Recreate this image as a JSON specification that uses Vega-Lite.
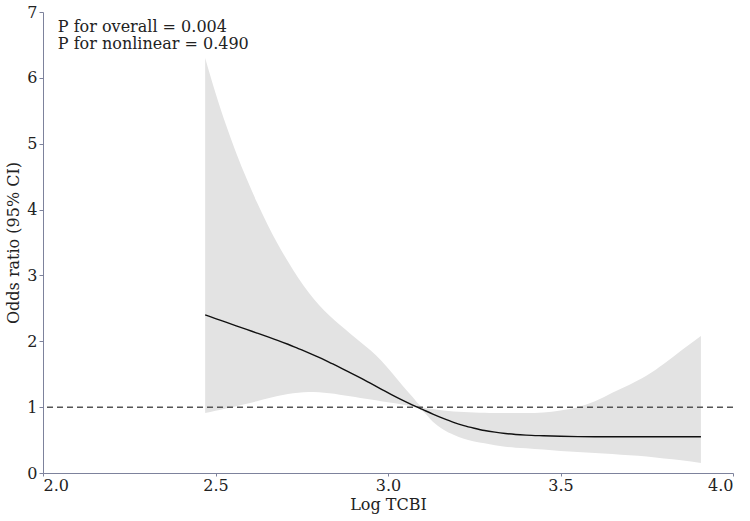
{
  "$schema": "https://vega.github.io/schema/vega-lite/v6.json",
  "width": 690,
  "height": 461,
  "autosize": "none",
  "padding": {"left": 43, "top": 12, "right": 17, "bottom": 48},
  "background": "white",
  "config": {
    "view": {"stroke": null},
    "font": "DejaVu Serif",
    "axis": {
      "grid": false,
      "domainColor": "#7d829c",
      "tickColor": "#7d829c",
      "labelFont": "DejaVu Serif",
      "labelFontSize": 16,
      "labelColor": "#222",
      "titleFont": "DejaVu Serif",
      "titleFontSize": 16,
      "titleFontWeight": "normal",
      "titleColor": "#222"
    }
  },
  "datasets": {
    "curve": [
      {"x": 2.47, "or": 2.40, "lo": 0.91, "hi": 6.30},
      {"x": 2.50, "or": 2.345, "lo": 0.945, "hi": 5.77},
      {"x": 2.53, "or": 2.29, "lo": 0.98, "hi": 5.29},
      {"x": 2.56, "or": 2.235, "lo": 1.015, "hi": 4.86},
      {"x": 2.59, "or": 2.18, "lo": 1.05, "hi": 4.47},
      {"x": 2.62, "or": 2.125, "lo": 1.09, "hi": 4.11},
      {"x": 2.65, "or": 2.07, "lo": 1.13, "hi": 3.78},
      {"x": 2.68, "or": 2.015, "lo": 1.17, "hi": 3.48},
      {"x": 2.71, "or": 1.955, "lo": 1.20, "hi": 3.21},
      {"x": 2.74, "or": 1.89, "lo": 1.22, "hi": 2.96},
      {"x": 2.77, "or": 1.825, "lo": 1.23, "hi": 2.74},
      {"x": 2.80, "or": 1.755, "lo": 1.225, "hi": 2.55},
      {"x": 2.83, "or": 1.68, "lo": 1.21, "hi": 2.39},
      {"x": 2.86, "or": 1.605, "lo": 1.19, "hi": 2.25},
      {"x": 2.89, "or": 1.525, "lo": 1.165, "hi": 2.12},
      {"x": 2.92, "or": 1.445, "lo": 1.14, "hi": 1.99},
      {"x": 2.95, "or": 1.36, "lo": 1.115, "hi": 1.86},
      {"x": 2.98, "or": 1.275, "lo": 1.09, "hi": 1.71},
      {"x": 3.01, "or": 1.19, "lo": 1.065, "hi": 1.53},
      {"x": 3.04, "or": 1.11, "lo": 1.04, "hi": 1.34},
      {"x": 3.07, "or": 1.035, "lo": 1.01, "hi": 1.16},
      {"x": 3.10, "or": 0.965, "lo": 0.94, "hi": 1.00},
      {"x": 3.13, "or": 0.895, "lo": 0.78, "hi": 0.97},
      {"x": 3.16, "or": 0.83, "lo": 0.66, "hi": 0.95},
      {"x": 3.19, "or": 0.77, "lo": 0.58, "hi": 0.935},
      {"x": 3.22, "or": 0.72, "lo": 0.52, "hi": 0.925},
      {"x": 3.25, "or": 0.68, "lo": 0.48, "hi": 0.92},
      {"x": 3.28, "or": 0.645, "lo": 0.45, "hi": 0.915},
      {"x": 3.31, "or": 0.62, "lo": 0.42, "hi": 0.91},
      {"x": 3.34, "or": 0.60, "lo": 0.40, "hi": 0.91},
      {"x": 3.37, "or": 0.585, "lo": 0.385, "hi": 0.91},
      {"x": 3.40, "or": 0.575, "lo": 0.375, "hi": 0.91},
      {"x": 3.45, "or": 0.565, "lo": 0.355, "hi": 0.92},
      {"x": 3.50, "or": 0.557, "lo": 0.335, "hi": 0.95},
      {"x": 3.55, "or": 0.553, "lo": 0.32, "hi": 1.00},
      {"x": 3.60, "or": 0.551, "lo": 0.305, "hi": 1.09},
      {"x": 3.65, "or": 0.55, "lo": 0.29, "hi": 1.22},
      {"x": 3.70, "or": 0.55, "lo": 0.27, "hi": 1.34},
      {"x": 3.75, "or": 0.55, "lo": 0.25, "hi": 1.48},
      {"x": 3.80, "or": 0.55, "lo": 0.22, "hi": 1.66},
      {"x": 3.85, "or": 0.55, "lo": 0.195, "hi": 1.86},
      {"x": 3.907, "or": 0.55, "lo": 0.15, "hi": 2.08}
    ],
    "notes": [
      {"x": 2.043, "y": 6.7, "label": "P for overall = 0.004"},
      {"x": 2.043, "y": 6.44, "label": "P for nonlinear = 0.490"}
    ],
    "ref": [{"y": 1}]
  },
  "layer": [
    {
      "data": {"name": "curve"},
      "mark": {"type": "area", "color": "#e3e3e3", "opacity": 1, "interpolate": "monotone"},
      "encoding": {
        "x": {"field": "x", "type": "quantitative", "scale": {"domain": [2, 4], "nice": false}, "axis": {"values": [2, 2.5, 3, 3.5, 4], "format": ".1f", "title": "Log TCBI", "titlePadding": 3, "tickSize": 3, "labelPadding": 1}},
        "y": {"field": "lo", "type": "quantitative", "scale": {"domain": [0, 7], "nice": false}, "axis": {"values": [0, 1, 2, 3, 4, 5, 6, 7], "format": "d", "title": "Odds ratio (95% CI)", "titlePadding": 5, "tickSize": 4, "labelPadding": 2}},
        "y2": {"field": "hi"}
      }
    },
    {
      "data": {"name": "ref"},
      "mark": {"type": "rule", "color": "#555", "strokeDash": [6, 4], "strokeWidth": 1.5},
      "encoding": {"y": {"field": "y", "type": "quantitative"}}
    },
    {
      "data": {"name": "curve"},
      "mark": {"type": "line", "color": "#111", "strokeWidth": 1.4, "interpolate": "monotone"},
      "encoding": {
        "x": {"field": "x", "type": "quantitative"},
        "y": {"field": "or", "type": "quantitative"}
      }
    },
    {
      "data": {"name": "notes"},
      "mark": {"type": "text", "align": "left", "baseline": "alphabetic", "fontSize": 16, "font": "DejaVu Serif", "color": "#222"},
      "encoding": {
        "x": {"field": "x", "type": "quantitative"},
        "y": {"field": "y", "type": "quantitative"},
        "text": {"field": "label"}
      }
    }
  ]
}
